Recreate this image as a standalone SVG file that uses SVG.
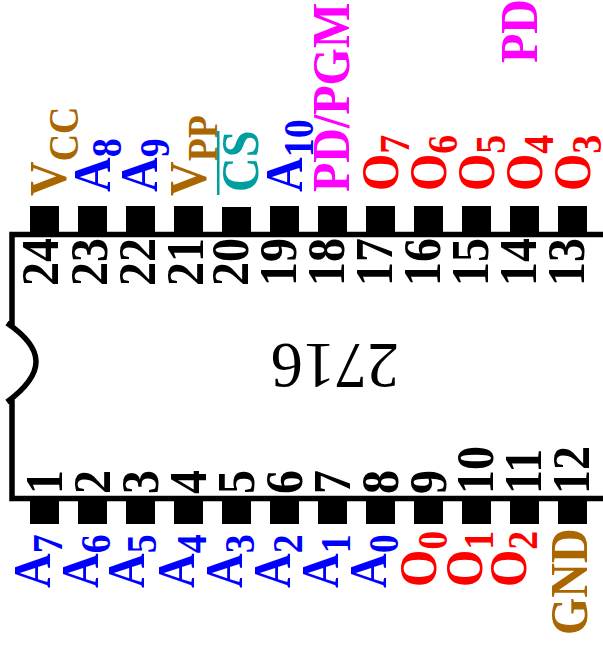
<svg xmlns="http://www.w3.org/2000/svg" width="603" height="646" viewBox="0 0 603 646">
<style>
text{font-family:"Liberation Serif","Times New Roman",serif;font-weight:bold;font-size:48px}
.s{font-size:38px}
.n{fill:#000}.a{fill:#0000ff}.o{fill:#ff0000}.p{fill:#aa6600}.m{fill:#ff00ff}.c{fill:#009f9f}
.pin{fill:#000}
</style>
<rect width="603" height="646" fill="#fff"/>
<g id="chip">
<path d="M620 234.5H12V327M12 399V498.5H620M7 323C26 336 36 349 36 361.5C36 374 26 388 7 402" fill="none" stroke="#000" stroke-width="5.5"/>
<text transform="translate(399 344) rotate(180) scale(1 1.03)" style="font-weight:normal;font-size:64px">2716</text>
</g>
<g id="pins-top" class="pin">
<rect x="30" y="206" width="29" height="27"/><rect x="78" y="206" width="29" height="27"/><rect x="126" y="206" width="29" height="27"/><rect x="174" y="206" width="29" height="27"/><rect x="222" y="207" width="29" height="26"/><rect x="270" y="206" width="29" height="27"/><rect x="318" y="206" width="29" height="27"/><rect x="366" y="206" width="29" height="27"/><rect x="414" y="206" width="29" height="27"/><rect x="462" y="206" width="29" height="27"/><rect x="510" y="206" width="29" height="27"/><rect x="558" y="206" width="29" height="27"/>
</g>
<g id="pins-bottom" class="pin">
<rect x="30" y="498" width="29" height="26"/><rect x="78" y="498" width="29" height="26"/><rect x="126" y="498" width="29" height="26"/><rect x="174" y="498" width="29" height="26"/><rect x="222" y="498" width="29" height="26"/><rect x="270" y="498" width="29" height="26"/><rect x="318" y="498" width="29" height="26"/><rect x="366" y="498" width="29" height="26"/><rect x="414" y="498" width="29" height="26"/><rect x="462" y="498" width="29" height="26"/><rect x="510" y="498" width="29" height="26"/><rect x="558" y="498" width="29" height="26"/>
</g>
<g id="numbers" class="n">
<text transform="translate(58 286) rotate(-90) scale(1 1.12)">24</text><text transform="translate(106.500 286) rotate(-90) scale(1 1.12)">23</text><text transform="translate(155 286) rotate(-90) scale(1 1.12)">22</text><text transform="translate(203 286) rotate(-90) scale(1 1.12)">21</text><text transform="translate(248 286) rotate(-90) scale(1 1.12)">20</text><text transform="translate(295.500 286) rotate(-90) scale(1 1.12)">19</text><text transform="translate(344 286) rotate(-90) scale(1 1.12)">18</text><text transform="translate(392 286) rotate(-90) scale(1 1.12)">17</text><text transform="translate(440 286) rotate(-90) scale(1 1.12)">16</text><text transform="translate(488 286) rotate(-90) scale(1 1.12)">15</text><text transform="translate(536 286) rotate(-90) scale(1 1.12)">14</text><text transform="translate(584 286) rotate(-90) scale(1 1.12)">13</text>
<text transform="translate(62 494) rotate(-90) scale(1 1.12)">1</text><text transform="translate(110 494) rotate(-90) scale(1 1.12)">2</text><text transform="translate(158 494) rotate(-90) scale(1 1.12)">3</text><text transform="translate(206 494) rotate(-90) scale(1 1.12)">4</text><text transform="translate(254 494) rotate(-90) scale(1 1.12)">5</text><text transform="translate(302 494) rotate(-90) scale(1 1.12)">6</text><text transform="translate(350 494) rotate(-90) scale(1 1.12)">7</text><text transform="translate(398 494) rotate(-90) scale(1 1.12)">8</text><text transform="translate(446 494) rotate(-90) scale(1 1.12)">9</text><text transform="translate(493 494) rotate(-90) scale(1 1.12)">10</text><text transform="translate(541 494) rotate(-90) scale(1 1.12)">11</text><text transform="translate(589 494) rotate(-90) scale(1 1.12)">12</text>
</g>
<g id="labels-top">
<text class="p" transform="translate(66 196) rotate(-90) scale(1 1.12)">V<tspan class="s" dy="10.700">CC</tspan></text>
<text class="a" transform="translate(109.500 192) rotate(-90) scale(1 1.12)">A<tspan class="s" dy="10.500">8</tspan></text>
<text class="a" transform="translate(157 192) rotate(-90) scale(1 1.12)">A<tspan class="s" dy="10.500">9</tspan></text>
<text class="p" transform="translate(206 196) rotate(-90) scale(1 1.12)">V<tspan class="s" dy="10">PP</tspan></text>
<text class="c" transform="translate(257.500 192) rotate(-90) scale(1 1.12)">CS</text>
<rect x="217" y="131" width="2.500" height="64" fill="#009f9f"/>
<text class="a" transform="translate(301.500 192) rotate(-90) scale(1 1.12)">A<tspan class="s" dy="10.500">10</tspan></text>
<text class="m" transform="translate(349 192) rotate(-90) scale(1 1.12)">PD/PGM</text>
<text class="o" transform="translate(397.500 191) rotate(-90) scale(1 1.12)">O<tspan class="s" dy="10">7</tspan></text>
<text class="o" transform="translate(445.500 191) rotate(-90) scale(1 1.12)">O<tspan class="s" dy="10">6</tspan></text>
<text class="o" transform="translate(493.500 191) rotate(-90) scale(1 1.12)">O<tspan class="s" dy="10">5</tspan></text>
<text class="o" transform="translate(541.500 191) rotate(-90) scale(1 1.12)">O<tspan class="s" dy="10">4</tspan></text>
<text class="o" transform="translate(589.500 191) rotate(-90) scale(1 1.12)">O<tspan class="s" dy="10">3</tspan></text>
<text class="m" transform="translate(537 63) rotate(-90) scale(1 1.12)">PD</text>
</g>
<g id="labels-bottom">
<text class="a" transform="translate(50 588) rotate(-90) scale(1 1.12)">A<tspan class="s" dy="10.500">7</tspan></text>
<text class="a" transform="translate(98 588) rotate(-90) scale(1 1.12)">A<tspan class="s" dy="10.500">6</tspan></text>
<text class="a" transform="translate(144 588) rotate(-90) scale(1 1.12)">A<tspan class="s" dy="10.500">5</tspan></text>
<text class="a" transform="translate(194 588) rotate(-90) scale(1 1.12)">A<tspan class="s" dy="10.500">4</tspan></text>
<text class="a" transform="translate(242 588) rotate(-90) scale(1 1.12)">A<tspan class="s" dy="10.500">3</tspan></text>
<text class="a" transform="translate(290 588) rotate(-90) scale(1 1.12)">A<tspan class="s" dy="10.500">2</tspan></text>
<text class="a" transform="translate(338 588) rotate(-90) scale(1 1.12)">A<tspan class="s" dy="10.500">1</tspan></text>
<text class="a" transform="translate(386 588) rotate(-90) scale(1 1.12)">A<tspan class="s" dy="10.500">0</tspan></text>
<text class="o" transform="translate(436 587) rotate(-90) scale(1 1.12)">O<tspan class="s" dy="10">0</tspan></text>
<text class="o" transform="translate(482 587) rotate(-90) scale(1 1.12)">O<tspan class="s" dy="10">1</tspan></text>
<text class="o" transform="translate(526 587) rotate(-90) scale(1 1.12)">O<tspan class="s" dy="10">2</tspan></text>
<text class="p" transform="translate(587 635) rotate(-90) scale(1 1.12)">GND</text>
</g>
</svg>
